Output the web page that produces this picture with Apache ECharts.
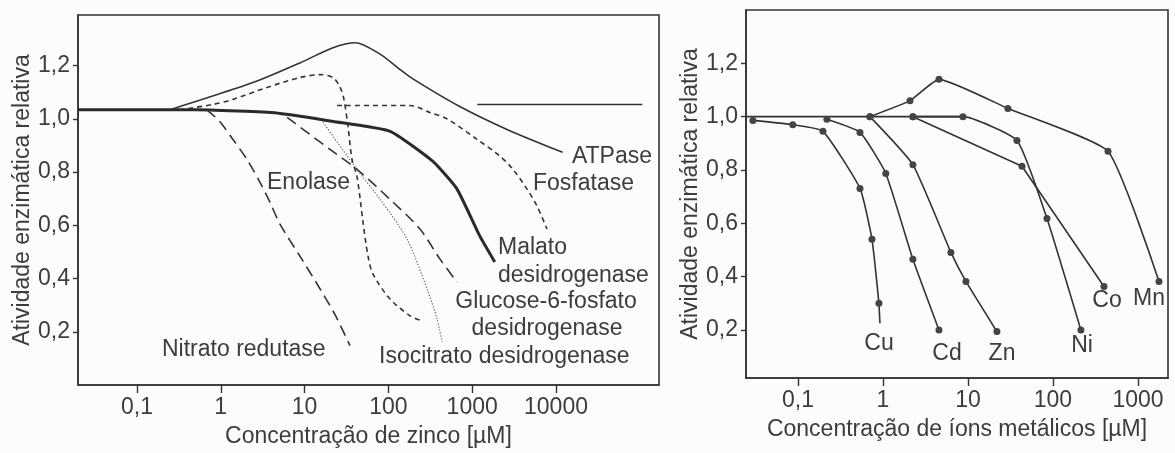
<!DOCTYPE html>
<html>
<head>
<meta charset="utf-8">
<script src="https://cdn.jsdelivr.net/npm/echarts@6/dist/echarts.min.js"></script>
<style>
html,body{margin:0;padding:0;background:#fcfcfc;}
#c{width:1175px;height:453px;}
</style>
</head>
<body>
<div id="c"></div>
<script>
// ---------- Left panel: zinc concentration (µM) vs relative activity ----------
const zincTicks = [0.1, 1, 10, 100, 1000, 10000];
const activityTicks = [0.2, 0.4, 0.6, 0.8, 1.0, 1.2];

const malato = [[0.0198,1.034],[0.5,1.034],[2,1.028],[5.1,1.02],[22,0.99],[105,0.953],[340,0.84],[660,0.736],[1230,0.56],[1860,0.462]];
const atpase = [[0.248,1.034],[0.56,1.07],[2.42,1.136],[8.8,1.21],[21.8,1.267],[40,1.286],[79.4,1.243],[138,1.185],[196,1.15],[711,1.046],[2600,0.96],[12000,0.874]];
const atpaseControl = [[1150,1.054],[107000,1.054]];
const fosfatase = [[24.4,1.05],[181,1.05],[314,1.024],[500,1.0],[1140,0.923],[2140,0.86],[3070,0.81],[4510,0.736],[5930,0.672],[7810,0.586]];
const enolase = [[0.32,1.034],[0.81,1.054],[1.4,1.073],[3.56,1.118],[8.8,1.155],[15.3,1.166],[21.8,1.155],[26.4,1.12],[29.5,1.073],[33,0.97],[36.8,0.848],[42.2,0.784],[49.8,0.612],[57.1,0.485],[65.5,0.417],[104,0.324],[181,0.26],[251,0.241]];
const nitrato = [[0.684,1.034],[0.978,0.989],[1.4,0.922],[2.06,0.847],[2.94,0.761],[3.87,0.686],[5.09,0.604],[8.81,0.484],[15.3,0.361],[23.1,0.264],[34.8,0.148]];
const glicose6p = [[6.2,1.005],[20.1,0.885],[42.2,0.81],[104,0.698],[238,0.586],[413,0.473],[659,0.387]];
const isocitrato = [[16.6,0.987],[42.2,0.81],[79.4,0.698],[167,0.548],[289,0.361],[380,0.249],[437,0.163]];

const leftLabels = ['ATPase','Fosfatase','Enolase','Malato','desidrogenase','Glucose-6-fosfato','desidrogenase','Isocitrato desidrogenase','Nitrato redutase'];

// ---------- Right panel: metal ion concentration (µM) ----------
const metalTicks = [0.1, 1, 10, 100, 1000];
const baseline = [[0.0245,1.0],[8.73,1.0]];
const cu = [[0.0295,0.986],[0.087,0.97],[0.197,0.945],[0.537,0.731],[0.743,0.54],[0.897,0.30]];
const cuTail = [[0.897,0.30],[0.922,0.225]];
const cd = [[0.219,0.99],[0.537,0.941],[1.08,0.787],[2.25,0.465],[4.56,0.20]];
const zn = [[0.703,1.0],[2.25,0.82],[6.3,0.491],[9.47,0.382],[21.9,0.194]];
const mn = [[0.703,1.0],[2.08,1.06],[4.56,1.14],[29.5,1.031],[444,0.87],[1766,0.382]];
const ni = [[2.25,1.0],[8.73,1.0],[37.7,0.911],[85,0.618],[213,0.2]];
const co = [[2.25,1.0],[43.2,0.814],[398,0.363]];
const metalLabels = ['Cu','Cd','Zn','Ni','Co','Mn'];

const FONT = "'Liberation Sans', Arial, sans-serif";
const INK = '#333';
const TXT = '#3c3c3c';

function logFmt(v){
  const p = Math.round(Math.log10(v));
  if (p < 0) return '0,' + '0'.repeat(-p-1) + '1';
  return String(Math.round(Math.pow(10,p)));
}
function decFmt(v){ return v.toFixed(1).replace('.', ','); }

function xAxisCfg(idx, min, max, ticks, name){
  return {
    type:'log', gridIndex: idx, min: min, max: max, logBase: 10,
    name: name, nameLocation:'middle', nameGap: 40,
    nameTextStyle:{fontFamily:FONT, fontSize:23, color:TXT},
    axisLine:{show:true, lineStyle:{color:INK, width:1.6}},
    axisTick:{show:true, length:8, customValues: ticks, lineStyle:{color:INK, width:1.4}},
    axisLabel:{customValues: ticks, formatter: logFmt, fontFamily:FONT, fontSize:23, color:TXT, margin:11},
    splitLine:{show:false}, minorTick:{show:false}
  };
}
function yAxisCfg(idx, min, max, ticks){
  return {
    type:'value', gridIndex: idx, min: min, max: max,
    name:'Atividade enzimática relativa', nameLocation:'middle', nameRotate:90, nameGap:44,
    nameTextStyle:{fontFamily:FONT, fontSize:23, color:TXT},
    axisLine:{show:true, lineStyle:{color:INK, width:1.6}},
    axisTick:{show:true, length:5, customValues: ticks, lineStyle:{color:INK, width:1.4}},
    axisLabel:{customValues: ticks, formatter: decFmt, fontFamily:FONT, fontSize:23, color:TXT, margin:8},
    splitLine:{show:false}
  };
}

function leftLine(data, opts){
  return Object.assign({
    type:'line', xAxisIndex:0, yAxisIndex:0, data: data, showSymbol:false, symbol:'none',
    smooth:0.3, silent:true, animation:false,
    lineStyle:{color:INK, width:1.6}
  }, opts);
}
function rightLine(data, opts){
  return Object.assign({
    type:'line', xAxisIndex:1, yAxisIndex:1, data: data, symbol:'circle', symbolSize:7,
    itemStyle:{color:'#444'}, smooth:0.15, silent:true, animation:false,
    lineStyle:{color:INK, width:1.6}
  }, opts);
}

function txt(text, x, y, align){
  return {type:'text', x:x, y:y, silent:true, z:100,
    style:{text:text, font:'23px ' + FONT, fill:TXT, align: align || 'left', verticalAlign:'middle'}};
}

const chart = echarts.init(document.getElementById('c'), null, {renderer:'canvas'});
chart.setOption({
  backgroundColor:'#fcfcfc',
  animation:false,
  grid:[
    {left:78, top:15, width:581, height:370, show:true, borderColor:INK, borderWidth:1.6, backgroundColor:'transparent'},
    {left:746, top:10, width:422, height:368, show:true, borderColor:INK, borderWidth:1.6, backgroundColor:'transparent'}
  ],
  xAxis:[
    xAxisCfg(0, 0.0198, 169400, zincTicks, 'Concentração de zinco [µM]'),
    xAxisCfg(1, 0.0245, 2254, metalTicks, 'Concentração de íons metálicos [µM]')
  ],
  yAxis:[
    yAxisCfg(0, 0, 1.39, activityTicks),
    yAxisCfg(1, 0.02, 1.4, activityTicks)
  ],
  series:[
    leftLine(malato, {name:'Malato desidrogenase', lineStyle:{color:'#2a2a2a', width:3}, smooth:0.15}),
    leftLine(atpase, {name:'ATPase'}),
    leftLine(atpaseControl, {name:'ATPase controle', smooth:false}),
    leftLine(fosfatase, {name:'Fosfatase', lineStyle:{color:INK, width:1.6, type:[5,4]}}),
    leftLine(enolase, {name:'Enolase', lineStyle:{color:INK, width:1.6, type:[5,4]}}),
    leftLine(nitrato, {name:'Nitrato redutase', lineStyle:{color:INK, width:1.6, type:[11,6]}}),
    leftLine(glicose6p, {name:'Glucose-6-fosfato desidrogenase', lineStyle:{color:INK, width:1.6, type:[11,6]}}),
    leftLine(isocitrato, {name:'Isocitrato desidrogenase', lineStyle:{color:'#555', width:1.1, type:[1.2,1.8]}}),
    rightLine(baseline, {name:'base', symbol:'none', smooth:false}),
    rightLine(cu, {name:'Cu'}),
    rightLine(cuTail, {name:'Cu fim', symbol:'none', smooth:false}),
    rightLine(cd, {name:'Cd'}),
    rightLine(zn, {name:'Zn'}),
    rightLine(mn, {name:'Mn'}),
    rightLine(ni, {name:'Ni'}),
    rightLine(co, {name:'Co', smooth:false})
  ],
  graphic:[
    txt(leftLabels[0], 652, 157, 'right'),
    txt(leftLabels[1], 533, 184),
    txt(leftLabels[2], 267, 183),
    txt(leftLabels[3], 498, 248),
    txt(leftLabels[4], 498, 276),
    txt(leftLabels[5], 546, 302, 'center'),
    txt(leftLabels[6], 547, 329, 'center'),
    txt(leftLabels[7], 379, 357),
    txt(leftLabels[8], 162, 350),
    txt(metalLabels[0], 879, 344, 'center'),
    txt(metalLabels[1], 947, 354, 'center'),
    txt(metalLabels[2], 1002, 354, 'center'),
    txt(metalLabels[3], 1082, 346, 'center'),
    txt(metalLabels[4], 1107, 301, 'center'),
    txt(metalLabels[5], 1149, 299, 'center')
  ]
});
</script>
</body>
</html>
